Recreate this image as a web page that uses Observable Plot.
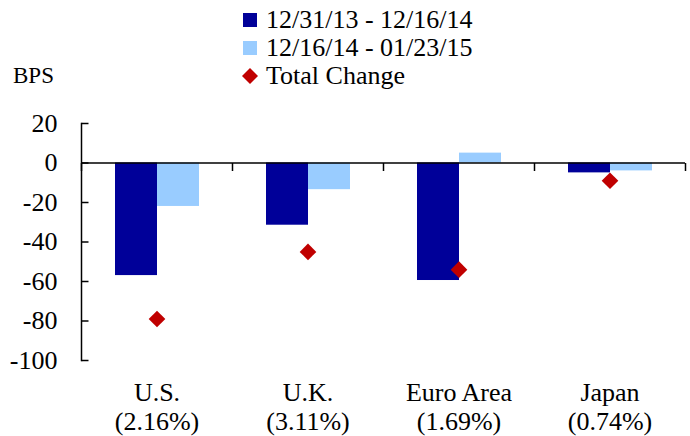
<!DOCTYPE html>
<html><head><meta charset="utf-8">
<script src="https://cdn.jsdelivr.net/npm/d3@7"></script>
<script src="https://cdn.jsdelivr.net/npm/@observablehq/plot@0.6"></script>
<style>
body{margin:0;background:#fff;color:#000;}
#wrap, #wrap *{font-family:"Liberation Serif","Times New Roman",serif !important;}
#wrap{position:relative;width:690px;height:436px;overflow:hidden;}
#legend{position:absolute;left:243px;top:6px;font-size:26px;}
.row{display:flex;align-items:center;height:28px;line-height:28px;white-space:nowrap;}
.sw{width:14px;height:14px;margin-right:9px;flex:none;}
#bps{position:absolute;left:13px;top:62px;font-size:23px;line-height:28px;}
</style></head><body>
<div id="wrap"><div id="chart"></div><div id="legend"></div><div id="bps">BPS</div></div>
<script>
const countries = ["U.S.", "U.K.", "Euro Area", "Japan"];
const yieldLabels = ["(2.16%)", "(3.11%)", "(1.69%)", "(0.74%)"];
const seriesNames = ["12/31/13 - 12/16/14", "12/16/14 - 01/23/15"];
const period1 = [-57, -31.5, -59.5, -5];
const period2 = [-22, -13.5, 5, -4];
const totalName = "Total Change";
const totalChange = [-79, -45, -54, -9];
const yTicks = [20, 0, -20, -40, -60, -80, -100];
const seriesColors = ["#000099", "#99CCFF"];
const diamondColor = "#C00000";

const bars = countries.flatMap((c, i) => [
  {country: c, series: seriesNames[0], value: period1[i]},
  {country: c, series: seriesNames[1], value: period2[i]}
]);
const totals = countries.map((c, i) => ({country: c, value: totalChange[i]}));

const tickDown = {draw(ctx) { ctx.moveTo(0, 0); ctx.lineTo(0, 8); }};
const tickRight = {draw(ctx) { ctx.moveTo(0, 0); ctx.lineTo(7, 0); }};
const serif = "'Liberation Serif', 'Times New Roman', serif";

const plot = Plot.plot({
  width: 690, height: 436,
  marginTop: 123, marginBottom: 76, marginLeft: 81, marginRight: 5,
  style: {fontFamily: serif, fontSize: "26px", color: "#000", background: "#fff"},
  fx: {domain: countries, padding: 0, label: null},
  x: {domain: seriesNames, paddingInner: 0, paddingOuter: 0.756, axis: null},
  y: {domain: [-100, 20], label: null},
  color: {domain: seriesNames, range: seriesColors},
  marks: [
    Plot.barY(bars, {fx: "country", x: "series", y: "value", fill: "series"}),
    Plot.ruleY([0], {stroke: "black", strokeWidth: 1.5}),
    Plot.frame({anchor: "left", facetAnchor: "left", stroke: "black", strokeWidth: 1.5}),
    Plot.dot(yTicks, {y: d => d, frameAnchor: "left", facetAnchor: "left", symbol: tickRight, stroke: "black", fill: "none", strokeWidth: 1.5}),
    Plot.dot(countries, {fx: d => d, y: () => 0, frameAnchor: "left", symbol: tickDown, stroke: "black", fill: "none", strokeWidth: 1.5}),
    Plot.dot([0], {y: d => d, frameAnchor: "right", facetAnchor: "right", symbol: tickDown, stroke: "black", fill: "none", strokeWidth: 1.5}),
    Plot.dot(totals, {fx: "country", y: "value", symbol: "diamond2", r: 7.5, fill: diamondColor, stroke: "none"}),
    Plot.axisY({ticks: yTicks, tickSize: 0, tickPadding: 24, fontSize: 26, label: null, tickFormat: d => String(d)}),
    Plot.axisFx({anchor: "bottom", tickSize: 0, tickPadding: 20, fontSize: 26, lineHeight: 1.12, label: null,
                 tickFormat: c => c + "\n" + yieldLabels[countries.indexOf(c)]})
  ]
});
plot.querySelectorAll("text, tspan").forEach(t => t.style.setProperty("font-family", serif, "important"));
document.getElementById("chart").appendChild(plot);

const legend = document.getElementById("legend");
seriesNames.forEach((name, i) => {
  const row = document.createElement("div");
  row.className = "row";
  row.innerHTML = `<div class="sw" style="background:${seriesColors[i]}"></div><span>${name}</span>`;
  legend.appendChild(row);
});
const trow = document.createElement("div");
trow.className = "row";
trow.innerHTML = `<svg width="16" height="16" style="margin-left:-1px;margin-right:8px;flex:none"><path d="M8,0L16,8L8,16L0,8Z" fill="${diamondColor}"/></svg><span>${totalName}</span>`;
legend.appendChild(trow);
</script>
</body></html>
